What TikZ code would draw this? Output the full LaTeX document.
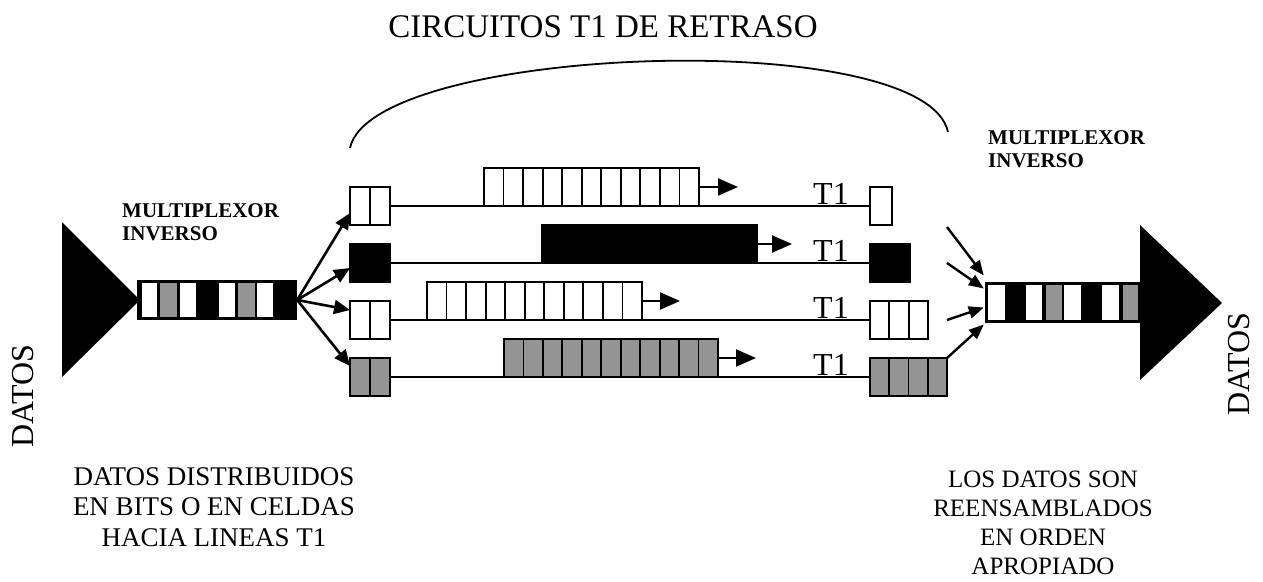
\documentclass[tikz,border=0pt]{standalone}
\usepackage{fontspec}
\setmainfont{Liberation Serif}
\usetikzlibrary{arrows.meta,calc}
\begin{document}
\begin{tikzpicture}[x=1pt,y=-1pt,
  bx/.style={draw=black, line width=1.8pt, inner sep=0pt, outer sep=0pt, minimum height=38pt},
  ln/.style={line width=1.8pt},
  graycell/.style={fill=black!42},
  fanarrow/.style={line width=2.6pt, -{Triangle[length=16pt,width=14pt]}},
  inarrow/.style={line width=2.4pt, -{Triangle[length=15pt,width=12pt]}},
  qarrow/.style={line width=2.2pt, -{Triangle[length=20pt,width=17pt]}},
  t1lab/.style={font=\fontsize{32}{32}\selectfont, inner sep=0pt, anchor=base west},
  mux/.style={font=\bfseries\fontsize{21}{23}\selectfont, inner sep=0pt, anchor=north west, align=left},
  big/.style={font=\fontsize{32}{32}\selectfont, inner sep=0pt},
]
\useasboundingbox (0,0) rectangle (1263,581);

% title and arc
\node[font=\fontsize{33}{33}\selectfont, inner sep=0pt, anchor=base] (title) at (603,37) {CIRCUITOS T1 DE RETRASO};
\draw[line width=1.8pt] (350,148) .. controls (372,45) and (925,25) .. (948,132);

% side labels
\node[big, rotate=90] (datosL) at (23,396) {DATOS};
\node[big, rotate=90] (datosR) at (1239,364) {DATOS};
\node[mux] (muxL) at (122,203) {MULTIPLEXOR\\INVERSO};
\node[mux] (muxR) at (988,130) {MULTIPLEXOR\\INVERSO};

% bottom texts
\node[font=\fontsize{27}{30.5}\selectfont, inner sep=0pt, anchor=north, align=center] (txtL) at (214,467)
  {DATOS DISTRIBUIDOS\\EN BITS O EN CELDAS\\HACIA LINEAS T1};
\node[font=\fontsize{25}{29}\selectfont, inner sep=0pt, anchor=north, align=center] (txtR) at (1043,471)
  {LOS DATOS SON\\REENSAMBLADOS\\EN ORDEN\\APROPIADO};

% left triangle and input bar
\fill (62,222) -- (62,377) -- (140,300) -- cycle;
\node[fill=black, inner sep=0pt, minimum width=160pt, minimum height=40pt] (inbar) at (217,300) {};
\foreach \a/\b in {142/157,180/196,219/235,257/273} \fill[white] (\a,283) rectangle (\b,317);
\foreach \a/\b in {160/177,238/255} \fill[graycell] (\a,283) rectangle (\b,317);

% left small boxes
\node[bx, minimum width=40pt, fill=white] (lb1) at (370,206) {};
\draw[ln] (lb1.north) -- (lb1.south);
\node[bx, minimum width=40pt, fill=black] (lb2) at (370,263) {};
\node[bx, minimum width=40pt, fill=white] (lb3) at (370,320) {};
\draw[ln] (lb3.north) -- (lb3.south);
\node[bx, minimum width=40pt, graycell] (lb4) at (370,377) {};
\draw[ln] (lb4.north) -- (lb4.south);

% right small boxes
\node[bx, minimum width=22pt, fill=white] (rb1) at (881,206) {};
\node[bx, minimum width=40pt, fill=black] (rb2) at (890,263) {};
\node[bx, minimum width=58pt, fill=white] (rb3) at (899,320) {};
\foreach \k in {1,2} \draw[ln] ($(rb3.north west)+(\k*19.33,0)$) -- ($(rb3.south west)+(\k*19.33,0)$);
\node[bx, minimum width=77pt, graycell] (rb4) at (908.5,377) {};
\foreach \k in {1,2,3} \draw[ln] ($(rb4.north west)+(\k*19.25,0)$) -- ($(rb4.south west)+(\k*19.25,0)$);

% T1 lines
\draw[ln] (lb1.east) -- (rb1.west);
\draw[ln] (lb2.east) -- (rb2.west);
\draw[ln] (lb3.east) -- (rb3.west);
\draw[ln] (lb4.east) -- (rb4.west);
\node[t1lab] (t1a) at (813,204) {T1};
\node[t1lab] (t1b) at (813,261) {T1};
\node[t1lab] (t1c) at (813,318) {T1};
\node[t1lab] (t1d) at (813,375) {T1};

% queues
\node[bx, minimum width=215pt, fill=white] (q1) at (591.5,187) {};
\foreach \k in {1,...,10} \draw[ln] ($(q1.north west)+(\k*19.545,0)$) -- ($(q1.south west)+(\k*19.545,0)$);
\node[bx, minimum width=215pt, fill=black] (q2) at (649.5,244) {};
\node[bx, minimum width=215pt, fill=white] (q3) at (534.5,301) {};
\foreach \k in {1,...,10} \draw[ln] ($(q3.north west)+(\k*19.545,0)$) -- ($(q3.south west)+(\k*19.545,0)$);
\node[bx, minimum width=214pt, graycell] (q4) at (611,358) {};
\foreach \k in {1,...,10} \draw[ln] ($(q4.north west)+(\k*19.45,0)$) -- ($(q4.south west)+(\k*19.45,0)$);

\coordinate (q1e) at (738,187);
\coordinate (q2e) at (792,244);
\coordinate (q3e) at (680,301);
\coordinate (q4e) at (756,358);
\draw[qarrow] (q1.east) -- (q1e);
\draw[qarrow] (q2.east) -- (q2e);
\draw[qarrow] (q3.east) -- (q3e);
\draw[qarrow] (q4.east) -- (q4e);

% fan-out arrows
\draw[fanarrow] (inbar.east) -- ($(lb1.west)+(0,7)$);
\draw[fanarrow] (inbar.east) -- ($(lb2.west)+(0,5)$);
\draw[fanarrow] (inbar.east) -- ($(lb3.west)+(0,-10)$);
\draw[fanarrow] (inbar.east) -- ($(lb4.west)+(0,-11)$);

% output bar and right triangle
\node[fill=black, inner sep=0pt, minimum width=157pt, minimum height=41pt] (outbar) at (1063.5,302.5) {};
\foreach \a/\b in {988/1005,1026/1042,1064/1081,1102/1119} \fill[white] (\a,285) rectangle (\b,320);
\foreach \a/\b in {1046/1062,1123/1138} \fill[graycell] (\a,285) rectangle (\b,320);
\fill (1140,225) -- (1140,380) -- (1222,303) -- cycle;

% fan-in arrows
\coordinate (f1) at (947,227);
\coordinate (f2) at (947,263);
\coordinate (f3) at (947,320);
\draw[inarrow] (f1) -- ($(outbar.west)+(-1,-27)$);
\draw[inarrow] (f2) -- ($(outbar.west)+(-1,-14)$);
\draw[inarrow] (f3) -- ($(outbar.west)+(-1,5)$);
\draw[inarrow] (rb4.north east) -- ($(outbar.west)+(-1,22)$);
\end{tikzpicture}
\end{document}
